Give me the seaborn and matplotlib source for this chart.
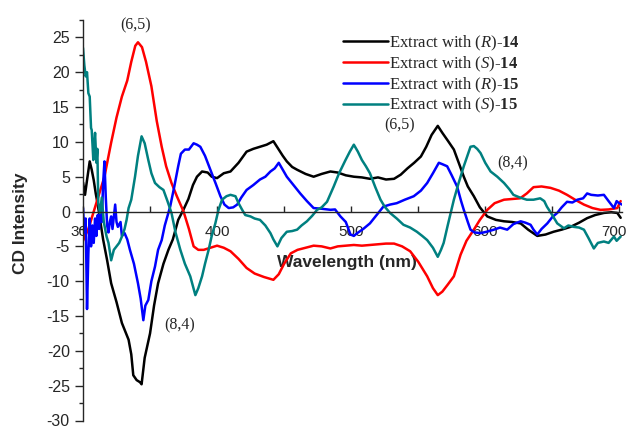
import numpy as np
import pandas as pd
import matplotlib
matplotlib.use("Agg")
import matplotlib.pyplot as plt
from matplotlib.ticker import MultipleLocator
from matplotlib.transforms import ScaledTranslation
import seaborn as sns

# ---- data (wavelength nm, CD intensity) ----
r14_nm = [300, 301.5, 303, 305, 306.5, 308, 309.5, 311, 313, 315, 318, 321, 325, 329, 334, 336,
          337.5, 340, 342.5, 343.7, 346, 350, 353, 356, 360, 363.7, 367, 371, 375, 378.6, 382,
          385, 388.8, 393, 396, 400, 405, 410, 416, 422, 427, 432, 437, 442, 445, 449, 452, 456,
          459.7, 466, 472, 478, 484.5, 490, 496, 502, 508, 514, 520, 526, 532, 537, 542, 547,
          552, 556, 560, 564.6, 568, 572, 576.6, 581, 584, 587, 591.5, 596, 601.5, 608, 614,
          620, 626.4, 632, 638.8, 645, 651, 657, 663.6, 670, 676, 682, 688.5, 694, 698.5, 701]
r14_cd = [4.2, 2.4, 4.5, 7.2, 6.0, 4.5, 2.6, 1.0, -1.5, -4.0, -7.0, -10.3, -13.0, -16.0, -18.4,
          -20.5, -23.5, -24.2, -24.5, -24.8, -21.0, -17.5, -13.5, -10.3, -7.5, -5.5, -4.0, -1.2,
          0.3, 1.8, 3.8, 5.0, 5.75, 5.6, 5.0, 4.8, 5.5, 5.75, 7.0, 8.6, 9.0, 9.3, 9.6, 10.1, 9.2,
          8.0, 7.2, 6.4, 6.0, 5.4, 5.0, 5.4, 5.75, 5.6, 5.2, 5.0, 4.9, 4.7, 4.9, 4.6, 4.7, 5.3,
          6.2, 7.0, 7.9, 9.3, 11.0, 12.3, 11.3, 10.2, 8.9, 6.6, 5.0, 3.6, 2.2, 0.6, -0.7, -1.2,
          -1.4, -1.5, -1.7, -2.6, -3.5, -3.3, -2.9, -2.6, -2.2, -1.6, -0.95, -0.5, -0.2, -0.1,
          -0.2, -0.9]

s14_nm = [300, 304, 308, 312, 316, 321, 325, 329, 333, 336, 339, 341, 344, 347, 351, 355, 358.7,
          362, 366, 370, 375, 379, 382.5, 386, 390, 395, 400, 405, 410, 416, 422, 428, 435, 442,
          446, 450, 455, 460, 466, 472, 478, 484.5, 490, 496, 502, 508, 514, 520, 526, 532, 538,
          544, 550, 556.7, 561, 564.6, 568, 572, 576.6, 581.6, 586, 591.5, 596, 601.5, 607, 614,
          620, 626, 631, 636, 642, 648.7, 655, 661, 667, 673.6, 680, 686, 692, 698.5, 701]
s14_cd = [-4.2, -2.5, 0.0, 2.5, 5.0, 9.9, 13.5, 16.5, 18.8, 21.5, 23.8, 24.3, 23.6, 21.5, 18.0,
          13.0, 9.3, 6.5, 4.1, 2.2, 0.0, -2.5, -5.0, -5.5, -5.5, -5.2, -4.9, -5.2, -5.7, -6.8,
          -8.1, -8.9, -9.4, -9.8, -9.0, -7.5, -6.0, -5.5, -5.2, -4.9, -5.0, -5.3, -5.0, -4.9,
          -4.8, -4.9, -4.8, -4.7, -4.6, -4.6, -5.0, -5.7, -7.2, -9.3, -11.0, -12.0, -11.5, -10.5,
          -9.3, -6.2, -4.2, -2.6, -1.2, 0.24, 1.2, 1.7, 1.8, 1.9, 2.6, 3.5, 3.6, 3.4, 3.0, 2.4,
          1.7, 1.0, 0.5, 0.24, 0.3, 0.5, 1.5]

r15_nm = [300, 301, 302, 303, 304, 305, 306, 307, 308, 309, 310, 311, 312, 313, 314, 315, 316,
          317, 318, 319, 320, 321, 322, 324, 325, 326, 328, 329, 331, 333, 335, 338, 341, 343,
          345, 346.5, 348.7, 351, 353.7, 356, 358.7, 361, 363.7, 365, 368, 371, 373, 376, 379,
          382.5, 385, 387.5, 391, 395, 399, 402.5, 405.5, 408.7, 412, 415, 418, 422, 427, 432,
          436, 439.8, 443, 446, 449, 452, 457, 462, 467, 472, 478, 484.5, 488, 492, 496, 499.5,
          502, 504.5, 509, 514, 519, 524, 529, 534, 540, 546.7, 552, 556.7, 561, 565.4, 568,
          571.6, 575, 579, 582, 584, 587, 589, 592, 596.5, 601, 606.5, 611, 616.4, 621, 626.4,
          630, 633.8, 636, 638.8, 642, 646.3, 650, 653.7, 657, 661, 665, 668.7, 673, 676, 679,
          684, 688.5, 692, 696, 698, 699.8, 702]
r15_cd = [0.5, -3.0, -1.0, -14.0, -6.0, -1.0, -5.0, -2.0, -4.5, -1.0, -3.5, -0.5, -2.5, 1.0,
          -1.5, 4.0, 7.2, 2.0, -2.0, -3.0, -1.5, -0.7, -2.5, 1.0, -1.5, -2.2, -1.5, -3.5, -3.1,
          -4.0, -5.5, -7.5, -10.3, -12.5, -15.6, -13.5, -12.7, -10.0, -7.9, -5.5, -4.1, -2.0,
          -0.2, 0.7, 3.5, 6.5, 8.3, 8.9, 8.9, 9.8, 9.6, 9.3, 8.0, 6.0, 4.0, 2.2, 1.0, 0.5, 0.6,
          1.0, 2.0, 3.1, 3.8, 4.6, 5.0, 5.75, 6.2, 7.0, 6.0, 5.0, 3.8, 2.6, 1.5, 0.5, 0.4, 0.25,
          0.3, -0.7, -1.5, -3.3, -3.5, -3.1, -2.5, -1.7, -0.5, 0.7, 1.0, 1.2, 1.7, 2.2, 3.0, 4.1,
          5.5, 7.0, 6.8, 6.5, 5.2, 3.6, 1.5, 0.25, -1.5, -2.6, -3.0, -3.1, -2.9, -2.6, -2.3,
          -2.6, -1.8, -1.4, -1.6, -1.9, -2.6, -3.3, -2.5, -1.7, -0.8, -0.2, 0.6, 1.4, 1.3, 1.7,
          1.9, 2.6, 2.4, 2.3, 2.4, 1.5, 0.5, 1.5, 1.2, 1.0]

s15_nm = [300, 301, 302, 303, 304, 305, 306, 306.5, 307.7, 308.5, 309, 310, 310.7, 311.4, 312.7,
          314, 315.5, 317.6, 319, 321, 323, 325, 327, 329, 331, 332.5, 334, 336, 338.8, 341,
          343.7, 346, 348.7, 351, 353.7, 357, 360, 363, 366, 369, 372.6, 376, 380, 383.8, 386,
          388.8, 391, 393.7, 396, 398.7, 401, 403.7, 407, 410, 413.7, 416, 418.7, 421, 424.9,
          428, 432, 436, 439.8, 442, 445, 448, 452, 456, 459.7, 463, 467, 471, 474.6, 478, 482,
          487, 491, 495.8, 499, 502, 505, 508, 511, 514, 518, 521.9, 525, 529, 534, 539, 544,
          549, 553, 556.7, 561, 564.6, 567, 569, 572, 576.6, 580, 584, 587, 589, 591.5, 594,
          596.5, 600, 604, 609, 614, 618, 621, 626, 631, 636, 641, 644, 646, 650, 653.7, 658.7,
          662, 666, 670, 673.6, 677, 681, 684, 688.5, 692, 696, 698, 701]
s15_cd = [23.5, 21.0, 19.4, 20.0, 17.0, 16.5, 12.0, 11.7, 7.4, 10.0, 11.3, 7.0, 9.0, 1.2, -0.2,
          2.0, -1.5, -3.6, -4.5, -7.0, -5.5, -5.0, -4.5, -3.6, -2.5, -1.2, 0.5, 1.7, 5.0, 8.0,
          10.8, 9.8, 7.4, 5.5, 4.1, 3.5, 3.1, 1.5, -0.2, -3.0, -5.5, -7.5, -9.3, -12.0, -11.0,
          -9.3, -7.5, -5.5, -3.5, -1.7, 0.2, 1.7, 2.2, 2.4, 2.2, 1.2, 0.25, -0.5, -0.7, -1.0,
          -1.2, -2.0, -3.1, -4.0, -5.0, -3.8, -2.9, -2.8, -2.6, -2.0, -1.4, -0.6, 0.25, 0.6, 1.4,
          3.6, 5.5, 7.4, 8.6, 9.6, 8.6, 7.4, 6.5, 5.5, 3.5, 1.7, 0.7, -0.2, -1.0, -1.9, -2.3,
          -2.9, -3.5, -4.1, -5.2, -6.5, -5.5, -4.5, -2.0, 1.7, 4.0, 6.5, 8.2, 9.3, 9.4, 9.0,
          8.4, 7.0, 5.75, 5.0, 4.1, 3.2, 2.4, 2.0, 1.7, 1.7, 1.9, 1.5, 0.7, -0.5, -1.7, -2.4,
          -2.0, -2.2, -2.3, -2.6, -3.8, -5.3, -4.5, -4.3, -4.5, -3.6, -4.2, -3.6]

labels = [r"Extract with ($\it{R}$)-$\bf{14}$", r"Extract with ($\it{S}$)-$\bf{14}$",
          r"Extract with ($\it{R}$)-$\bf{15}$", r"Extract with ($\it{S}$)-$\bf{15}$"]
colors = ["#000000", "#ff0000", "#0000ff", "#008080"]

sns.set_style("ticks")
plt.rcParams['font.family'] = ['Liberation Sans', 'DejaVu Sans']
plt.rcParams['axes.unicode_minus'] = False
plt.rcParams['mathtext.fontset'] = 'custom'
plt.rcParams['mathtext.rm'] = 'Liberation Serif'
plt.rcParams['mathtext.it'] = 'Liberation Serif:italic'
plt.rcParams['mathtext.bf'] = 'Liberation Serif:bold'

fig = plt.figure(figsize=(6.3, 4.28), dpi=100)
ax = fig.add_axes([83 / 630, 1 - 420.5 / 428, 539 / 630, 400.5 / 428])

series = [(r14_nm, r14_cd), (s14_nm, s14_cd), (r15_nm, r15_cd), (s15_nm, s15_cd)]
for (x, y), lab, col in zip(series, labels, colors):
    sns.lineplot(x=x, y=y, ax=ax, color=col, label=lab, linewidth=1.8,
                 sort=False, estimator=None)

ax.set_xlim(300, 702)
ax.set_ylim(-30, 27.5)

ax.spines['top'].set_visible(False)
ax.spines['right'].set_visible(False)
ax.spines['bottom'].set_position(('data', 0))
for s in ('left', 'bottom'):
    ax.spines[s].set_linewidth(1.0)

ax.xaxis.set_major_locator(MultipleLocator(100))
ax.xaxis.set_minor_locator(MultipleLocator(50))
ax.yaxis.set_major_locator(MultipleLocator(5))
ax.yaxis.set_minor_locator(MultipleLocator(2.5))
ax.tick_params(axis='x', which='both', direction='in', length=4, width=1.0,
               labelsize=11, pad=10)
ax.tick_params(axis='y', which='major', direction='out', length=5.5, width=1.0,
               labelsize=11.5, pad=4)
ax.tick_params(axis='y', which='minor', direction='out', length=3, width=1.0)

ax.set_xlabel("Wavelength (nm)", fontsize=12.5, fontweight='bold')
ax.xaxis.set_label_coords(0.49, 0.413)
ax.set_ylabel("CD Intensity", fontsize=12.5, fontweight='bold')
ax.yaxis.set_label_coords(-0.102, 0.492)

ax.legend(loc='upper left', bbox_to_anchor=(0.482, 0.966), frameon=False,
          prop={'family': 'Liberation Serif', 'size': 12},
          handlelength=2.7, handletextpad=0.1, labelspacing=0.1,
          borderpad=0, borderaxespad=0)

ann = [("(6,5)", 339.4, 26.7), ("(6,5)", 536.2, 12.3),
       ("(8,4)", 620.7, 6.85), ("(8,4)", 372.0, -16.4)]
for t, x, y in ann:
    ax.text(x, y, t, family='Liberation Serif', fontsize=11.5,
            ha='center', va='center', clip_on=False)

# keep the last x tick label inside the figure
fig.canvas.draw()
last = [t for t in ax.get_xticklabels() if t.get_text() == '700']
for t in last:
    t.set_transform(t.get_transform() + ScaledTranslation(-4 / 72, 0, fig.dpi_scale_trans))

fig.savefig("out.png", dpi=100)
